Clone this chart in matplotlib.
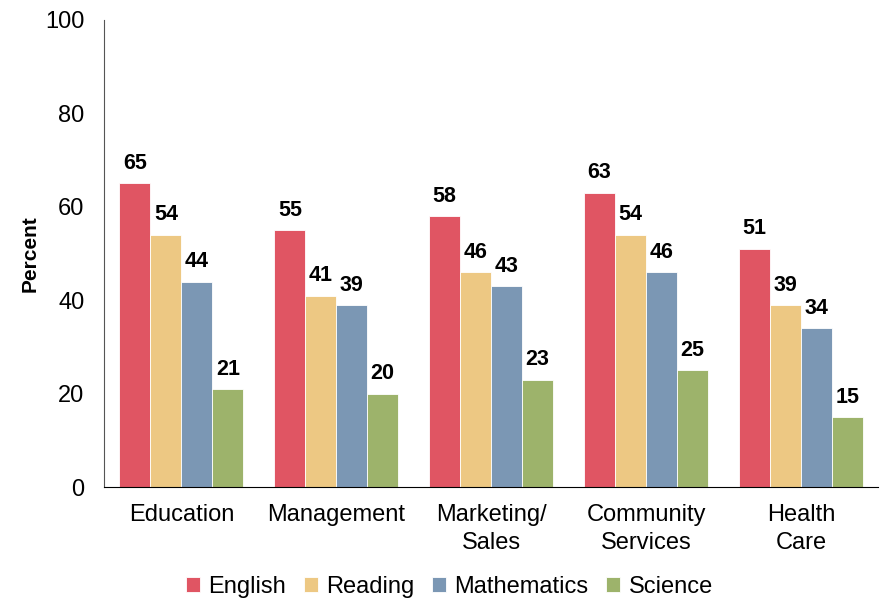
import numpy as np
import matplotlib
matplotlib.use('Agg')
from matplotlib import pyplot as plt

plt.rcParams['font.family'] = ['Liberation Sans', 'DejaVu Sans']

categories = ['Education', 'Management', 'Marketing/\nSales', 'Community\nServices', 'Health\nCare']
series_names = ['English', 'Reading', 'Mathematics', 'Science']
english = [65, 55, 58, 63, 51]
reading = [54, 41, 46, 54, 39]
mathematics = [44, 39, 43, 46, 34]
science = [21, 20, 23, 25, 15]
colors = ['#E05563', '#EDC883', '#7B97B4', '#9DB36B']

values = [english, reading, mathematics, science]

fig = plt.figure(figsize=(8.81, 5.98), dpi=100)
ax = fig.add_axes([0.118, 0.1856, 0.879, 0.781])

x = np.arange(len(categories))
w = 0.2
for i, (name, vals) in enumerate(zip(series_names, values)):
    pos = x + (i - 1.5) * w
    ax.bar(pos, vals, width=w, color=colors[i], edgecolor='white', linewidth=0.6, label=name)
    for p, v in zip(pos, vals):
        ax.text(p, v + 2.0, str(v), ha='center', va='bottom', fontsize=15.5, fontweight='bold')

ax.set_xlim(-0.5, len(categories) - 0.5)
ax.set_ylim(0, 100)
ax.set_yticks([0, 20, 40, 60, 80, 100])
ax.set_xticks(x)
ax.set_xticklabels(categories, fontsize=17, linespacing=1.35)
ax.tick_params(axis='y', labelsize=17, length=0, pad=14)
ax.tick_params(axis='x', length=0, pad=12)
ax.set_ylabel('Percent', fontsize=15, fontweight='bold', labelpad=4)

for s in ['top', 'right']:
    ax.spines[s].set_visible(False)
ax.spines['left'].set_color('#555555')
ax.spines['bottom'].set_color('black')

fig.legend(loc='lower center', bbox_to_anchor=(0.51, -0.035), ncol=4, frameon=False,
           fontsize=17, handlelength=0.6, handleheight=0.6, handletextpad=0.35, columnspacing=0.75)

fig.savefig('out.png', dpi=100)
